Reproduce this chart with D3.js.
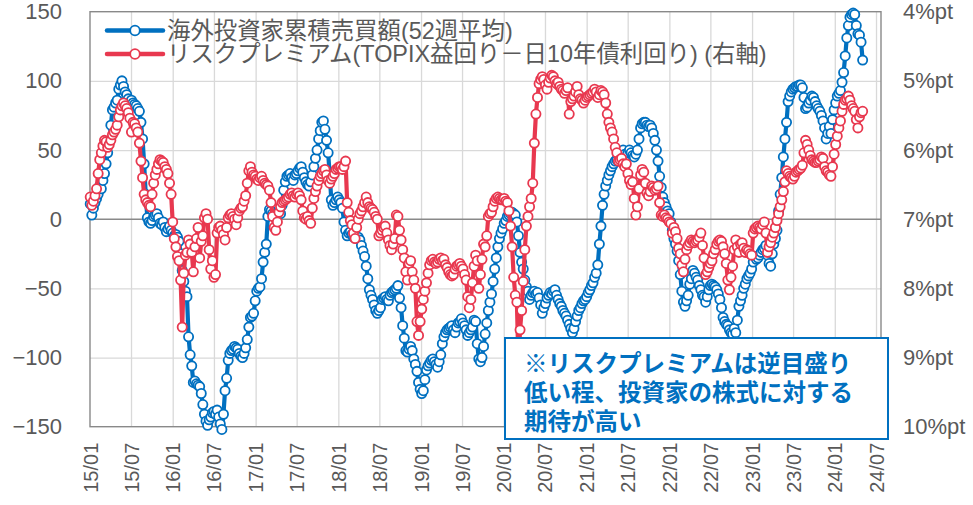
<!DOCTYPE html>
<html><head><meta charset="utf-8">
<script src="https://cdn.jsdelivr.net/npm/d3@7"></script>
<style>
body{margin:0;background:#fff;}
svg text{font-family:"Liberation Sans",Arial,"Noto Sans CJK JP",sans-serif;}
</style></head><body>
<svg id="chart" width="973" height="505"></svg>
<script>
// ---- data ----
const firstWeek = "2015-01-02";           // weekly observations start
const axisStart = "2015-01-01";
const axisEnd = "2024-07-23";
const seriesNames = ["海外投資家累積売買額(52週平均)", "リスクプレミアム(TOPIX益回り－日10年債利回り) (右軸)"];
// 海外投資家累積売買額 (52週平均), weekly
const foreignInvestors = [
 11,3,8,12,15,18,24,22,28,33,40,48,56,68,79,81,84,86,94,97,100,96,92,90,87,84,
 86,84,83,82,80,78,70,58,40,18,1,-2,-3,-1,2,3,4,1,-3,-4,-2,-6,-9,-7,-5,-8,
 -10,-12,-11,-13,-16,-25,-37,-45,-52,-56,-85,-98,-106,-118,-117,-119,-120,-121,-126,-134,-141,-146,-149,-145,-143,-140,
 -139,-141,-138,-143,-148,-152,-141,-124,-115,-102,-97,-95,-94,-92,-93,-94,-97,-99,-100,-97,-93,-87,-78,-71,-70,-68,
 -59,-52,-50,-49,-43,-31,-24,-18,2,7,6,4,2,1,3,5,4,10,21,27,31,32,33,30,28,32,
 33,35,37,38,34,30,27,25,24,27,32,38,44,50,58,64,70,71,65,57,48,32,14,10,12,14,
 16,14,12,8,-2,-8,-12,-10,-9,-11,-13,-12,-14,-13,-15,-19,-23,-27,-34,-43,-51,-55,-58,-62,-66,-68,
 -66,-64,-58,-57,-56,-58,-59,-55,-53,-52,-51,-50,-48,-57,-64,-77,-86,-95,-96,-94,-92,-95,-101,-105,-110,-118,
 -123,-126,-124,-116,-109,-106,-104,-102,-101,-103,-105,-107,-103,-98,-90,-85,-82,-80,-79,-78,-77,-80,-82,-78,-75,-74,
 -72,-75,-77,-80,-84,-82,-80,-78,-73,-74,-90,-101,-103,-100,-92,-83,-75,-66,-60,-54,-45,-36,-28,-20,-14,-10,
 -7,-3,-1,2,3,4,5,4,3,-2,-12,-24,-31,-36,-44,-49,-52,-58,-55,-53,-52,-54,-53,-57,-62,-68,
 -64,-61,-57,-55,-53,-54,-52,-51,-55,-58,-61,-63,-66,-68,-70,-73,-76,-79,-82,-79,-74,-70,-66,-64,-61,-59,
 -58,-56,-53,-51,-48,-46,-42,-39,-33,-18,-5,10,18,24,28,32,35,38,40,42,43,46,47,49,50,47,
 45,48,50,48,46,45,47,50,58,66,69,70,70,68,67,68,66,62,57,50,42,31,23,16,12,9,
 6,4,-2,-8,-14,-18,-23,-30,-40,-52,-60,-63,-59,-55,-47,-43,-37,-39,-42,-44,-48,-51,-55,-56,-60,-56,
 -51,-48,-47,-48,-49,-51,-54,-58,-64,-71,-74,-76,-77,-80,-82,-83,-79,-82,-73,-63,-59,-55,-50,-47,-43,-41,
 -39,-36,-31,-27,-29,-28,-26,-24,-22,-21,-19,-26,-32,-34,-25,-18,-14,-8,6,18,30,45,58,70,85,89,
 92,94,95,96,96,97,97,95,88,80,81,84,86,89,88,85,82,80,78,75,71,66,58,62,67,62,
 72,79,84,89,91,93,99,106,118,131,140,146,148,149,148,140,134,133,128,115
];
// リスクプレミアム (%pt, right axis, reversed), weekly
const riskPremium = [
 6.68,6.80,6.74,6.66,6.56,6.34,6.14,6.04,5.94,5.86,5.88,5.96,5.92,5.86,5.78,5.74,5.70,5.64,5.52,5.42,5.36,5.32,5.36,5.40,5.46,5.54,
 5.74,5.60,5.62,5.68,5.74,5.90,6.16,6.40,6.64,6.72,6.76,6.80,6.82,6.64,6.48,6.36,6.28,6.20,6.14,6.16,6.18,6.24,6.28,6.34,6.48,6.64,
 7.04,7.28,7.40,7.54,7.60,7.88,8.56,7.78,7.52,7.48,7.30,7.36,7.48,7.76,7.40,7.28,7.12,7.56,7.32,7.24,6.98,6.92,7.00,7.44,7.72,7.60,
 7.84,7.80,7.20,7.12,7.10,7.16,7.22,7.30,7.12,6.98,6.94,6.92,6.96,7.00,7.08,6.98,6.88,6.84,6.82,6.74,6.66,6.48,6.30,6.24,6.32,6.36,
 6.38,6.42,6.44,6.40,6.38,6.44,6.48,6.50,6.52,6.58,6.76,6.96,7.12,7.16,7.04,6.90,6.82,6.76,6.74,6.72,6.70,6.68,6.64,6.62,6.66,6.68,
 6.64,6.62,6.66,6.72,6.88,6.98,7.00,6.96,7.02,7.06,6.84,6.70,6.60,6.52,6.44,6.38,6.34,6.30,6.28,6.36,6.44,6.48,6.42,6.38,6.34,6.28,
 6.26,6.24,6.24,6.28,6.24,6.16,6.76,6.90,7.02,7.08,7.20,7.28,7.12,7.00,6.92,6.88,6.82,6.76,6.68,6.76,6.82,6.84,6.86,6.90,6.96,7.00,
 7.24,7.20,7.16,7.12,7.10,7.20,7.30,7.38,7.44,7.36,7.28,6.94,6.96,7.16,7.30,7.44,7.56,7.76,7.88,7.64,7.60,7.76,7.88,8.00,8.48,8.68,
 8.48,8.30,8.16,8.04,7.92,7.78,7.66,7.60,7.58,7.62,7.64,7.62,7.58,7.56,7.60,7.58,7.66,7.70,7.76,7.80,7.82,7.80,7.72,7.68,7.66,7.64,
 7.68,7.72,7.80,7.88,8.12,8.28,8.16,7.92,7.68,7.52,7.60,8.00,7.80,7.58,7.36,7.40,7.24,6.96,6.92,6.90,6.82,6.74,6.70,6.68,6.70,6.72,
 6.72,6.70,6.74,6.76,6.88,7.10,7.40,7.84,8.10,8.20,9.10,8.60,8.32,7.90,7.44,7.10,6.96,6.82,6.70,6.48,5.90,5.48,5.24,5.04,4.98,4.94,
 4.98,5.06,5.12,5.02,4.96,4.92,4.94,5.00,5.04,5.02,5.08,5.12,5.14,5.18,5.14,5.10,5.48,5.30,5.26,5.22,5.16,5.08,5.20,5.26,5.28,5.32,
 5.28,5.24,5.22,5.20,5.18,5.16,5.12,5.16,5.24,5.20,5.14,5.16,5.20,5.32,5.48,5.60,5.68,5.74,5.84,5.96,6.04,6.16,6.14,6.12,6.20,6.24,
 6.20,6.34,6.44,6.50,6.46,6.70,6.94,6.82,6.56,6.36,6.28,6.32,6.48,6.62,6.66,6.60,6.52,6.54,6.58,6.56,6.52,6.76,6.94,6.96,6.94,6.98,
 7.00,7.04,7.06,7.20,7.12,7.18,7.28,7.42,7.50,7.66,7.76,7.58,7.44,7.38,7.34,7.30,7.32,7.34,7.32,7.30,7.26,7.20,7.38,7.56,7.80,7.76,
 7.70,7.64,7.60,7.50,7.44,7.36,7.32,7.30,7.32,7.40,7.50,7.64,7.88,8.02,7.84,7.68,7.44,7.30,7.40,7.48,7.36,7.34,7.42,7.48,7.44,7.46,
 7.50,7.52,7.20,7.14,7.12,7.10,7.12,7.14,7.08,7.04,7.20,7.48,7.40,7.34,7.26,7.20,7.12,7.02,6.92,6.82,6.72,6.60,6.46,6.30,6.34,6.38,
 6.40,6.42,6.38,6.32,6.30,6.28,6.26,6.22,6.04,5.86,5.92,6.00,6.08,6.14,6.16,6.18,6.18,6.16,6.14,6.10,6.12,6.24,6.30,6.32,6.36,6.38,
 6.24,6.06,5.92,5.80,5.68,5.58,5.44,5.34,5.28,5.26,5.22,5.28,5.36,5.40,5.44,5.56,5.68,5.52,5.46,5.44
];
const xTickLabels = ["15/01","15/07","16/01","16/07","17/01","17/07","18/01","18/07","19/01","19/07",
  "20/01","20/07","21/01","21/07","22/01","22/07","23/01","23/07","24/01","24/07"];
const leftTicks = [150,100,50,0,-50,-100,-150];
const rightTicks = [4,5,6,7,8,9,10];
const noteLines = ["※リスクプレミアムは逆目盛り","低い程、投資家の株式に対する","期待が高い"];

// ---- drawing ----
const BLUE = "#0070C0", RED = "#E8384F", GRID = "#D9D9D9", AXIS = "#898989", LABEL = "#595959";
const svg = d3.select("#chart");
const P = {left:90, right:881, top:11.7, bottom:426.7};
const parse = d3.timeParse("%Y-%m-%d");
const parseYM = d3.timeParse("%y/%m");
const tickDates = xTickLabels.map(parseYM);

const x = d3.scaleTime().domain([parse(axisStart), parse(axisEnd)]).range([P.left, P.right]);
const yL = d3.scaleLinear().domain([-150,150]).range([P.bottom, P.top]);
const yR = d3.scaleLinear().domain([10,4]).range([P.bottom, P.top]);

// gridlines
const gh = svg.append("g").attr("transform",`translate(${P.left},0)`)
  .call(d3.axisLeft(yL).tickValues(leftTicks.filter(v=>v!==0 && Math.abs(v)!==150)).tickSize(-(P.right-P.left)).tickFormat(""));
gh.select(".domain").remove();
gh.selectAll("line").attr("stroke",GRID).attr("stroke-width",1.3);
const gv = svg.append("g").attr("transform",`translate(0,${P.bottom})`)
  .call(d3.axisBottom(x).tickValues(tickDates.slice(1)).tickSize(-(P.bottom-P.top)).tickFormat(""));
gv.select(".domain").remove();
gv.selectAll("line").attr("stroke",GRID).attr("stroke-width",1.3);

// plot border + zero line
svg.append("rect").attr("x",P.left).attr("y",P.top).attr("width",P.right-P.left).attr("height",P.bottom-P.top)
  .attr("fill","none").attr("stroke",AXIS).attr("stroke-width",1.4);
svg.append("line").attr("x1",P.left).attr("x2",P.right).attr("y1",yL(0)).attr("y2",yL(0))
  .attr("stroke",AXIS).attr("stroke-width",1.4);

// axes labels
const axL = svg.append("g").attr("transform",`translate(${P.left},0)`)
  .call(d3.axisLeft(yL).tickValues(leftTicks).tickSize(0).tickPadding(28));
const axR = svg.append("g").attr("transform",`translate(${P.right},0)`)
  .call(d3.axisRight(yR).tickValues(rightTicks).tickFormat(d=>d+"%pt").tickSize(0).tickPadding(22));
const axB = svg.append("g").attr("transform",`translate(0,${P.bottom})`)
  .call(d3.axisBottom(x).tickValues(tickDates).tickFormat(d3.timeFormat("%y/%m")).tickSize(0));
[axL,axR,axB].forEach(a=>{ a.select(".domain").remove();
  a.selectAll("text").attr("fill",LABEL).style("font-size","22px"); });
axB.selectAll("text").style("font-size","20px").attr("transform","rotate(-90)")
  .attr("text-anchor","end").attr("x",-16).attr("y",0).attr("dy","0.35em");

// series
const blueData = foreignInvestors.map((v,i)=>({d:d3.timeDay.offset(parse(firstWeek),7*i), v}));
const redData = riskPremium.map((v,i)=>({d:d3.timeDay.offset(parse(firstWeek),7*i), v}));
function drawSeries(data, yScale, color){
  const g = svg.append("g");
  g.append("path").datum(data).attr("fill","none").attr("stroke",color).attr("stroke-width",4.2)
    .attr("stroke-linejoin","round")
    .attr("d", d3.line().x(p=>x(p.d)).y(p=>yScale(p.v)));
  g.selectAll("circle").data(data).join("circle")
    .attr("cx",p=>x(p.d)).attr("cy",p=>yScale(p.v)).attr("r",4.6)
    .attr("fill","#fff").attr("stroke",color).attr("stroke-width",1.8);
}
drawSeries(blueData, yL, BLUE);
drawSeries(redData, yR, RED);

// legend
const legend = svg.append("g");
[BLUE, RED].forEach((c,i)=>{
  const yy = 30.5 + i*23.5;
  legend.append("line").attr("x1",107).attr("x2",163).attr("y1",yy).attr("y2",yy)
    .attr("stroke",c).attr("stroke-width",4.5).attr("stroke-linecap","round");
  legend.append("circle").attr("cx",135).attr("cy",yy).attr("r",4.8)
    .attr("fill","#fff").attr("stroke",c).attr("stroke-width",1.8);
  legend.append("text").attr("x",167).attr("y",yy).attr("dy","0.36em")
    .attr("fill",LABEL).style("font-size","23.4px").text(seriesNames[i]);
});

// annotation box
const note = svg.append("g");
note.append("rect").attr("x",505).attr("y",338).attr("width",383).attr("height",101)
  .attr("fill","#fff").attr("stroke",BLUE).attr("stroke-width",2);
noteLines.forEach((t,i)=>{
  note.append("text").attr("x",524).attr("y",364 + i*29).attr("dy","0.36em")
    .attr("fill",BLUE).style("font-size","23.5px").style("font-weight","bold").text(t);
});
</script>
</body></html>
